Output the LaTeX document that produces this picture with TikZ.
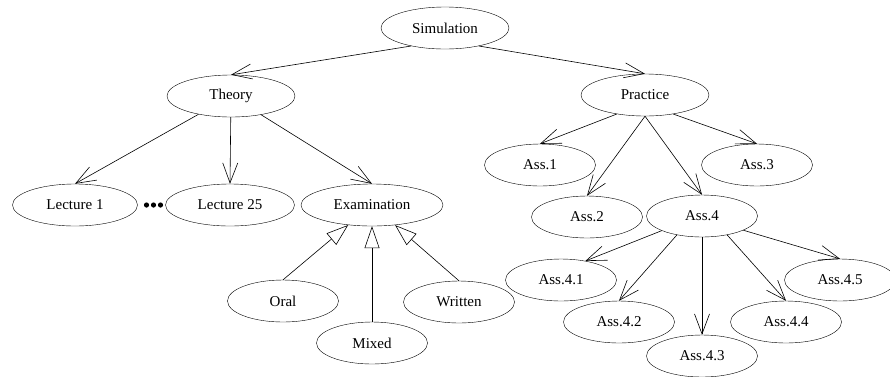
\documentclass[tikz,border=0pt]{standalone}
\usepackage{fontspec}
\setmainfont{Liberation Serif}
\usepackage{tikz}
\usetikzlibrary{arrows.meta,shapes.geometric}

\begin{document}
\begin{tikzpicture}[
x=1pt, y=-1pt,
font=\fontsize{15}{18}\selectfont,
topic/.style={draw, ellipse, inner sep=0pt, minimum width=111pt, minimum height=42pt},
wide/.style={topic, minimum width=128pt},
arrow/.style={-{Straight Barb[length=20pt, width=15pt]}, line width=0.6pt},
kindarrow/.style={-{Triangle[open, length=22pt, width=15pt]}, line width=0.6pt}
]
\useasboundingbox (0,0) rectangle (890,376);
\node[wide] (sim) at (445,28) {Simulation};
\node[wide] (theory) at (231,96) {Theory};
\node[wide] (practice) at (645,95) {Practice};
\draw[arrow] (sim.208) -- (theory.north);
\draw[arrow] (sim.332) -- (practice.north);

% theory side
\node[topic, minimum width=125pt] (lect1) at (75,205) {Lecture 1};
\node[topic, minimum width=129pt] (lect25) at (230,205) {Lecture 25};
\node[topic, minimum width=142pt] (exam) at (372,205) {Examination};
\coordinate (dots) at (153.5,205);
\foreach \dx in {-7,0,7}
  \fill ([xshift=\dx pt]dots) circle (2.6pt);
\draw[arrow] (theory) -- (lect1.north);
\draw[arrow] (theory) -- (lect25.north);
\draw[arrow] (theory) -- (exam.north);

\node[topic] (oral) at (283,301) {Oral};
\node[topic] (mixed) at (372,343) {Mixed};
\node[topic] (written) at (459,302) {Written};
\draw[kindarrow] (oral.north) -- (exam);
\draw[kindarrow] (mixed.north) -- (exam.south);
\draw[kindarrow] (written.north) -- (exam);

% practice side
\node[topic] (ass1) at (540,165) {Ass.1};
\node[topic] (ass2) at (587,217) {Ass.2};
\node[topic] (ass3) at (757,165) {Ass.3};
\node[topic] (ass4) at (702,216) {Ass.4};
\draw[arrow] (practice.214) -- (ass1.north);
\draw[arrow] (practice.south) -- (ass2.north);
\draw[arrow] (practice.326) -- (ass3.north);
\draw[arrow] (practice.south) -- (ass4.north);

\node[topic] (ass41) at (561,280) {Ass.4.1};
\node[topic] (ass42) at (619,322) {Ass.4.2};
\node[topic] (ass43) at (702,356) {Ass.4.3};
\node[topic] (ass44) at (786,322) {Ass.4.4};
\node[topic] (ass45) at (840,280) {Ass.4.5};
\draw[arrow] (ass4.200) -- (ass41.38);
\draw[arrow] (ass4.217) -- (ass42.north);
\draw[arrow] (ass4.south) -- (ass43.north);
\draw[arrow] (ass4.323) -- (ass44.north);
\draw[arrow] (ass4.341) -- (ass45.north);
\end{tikzpicture}
\end{document}
